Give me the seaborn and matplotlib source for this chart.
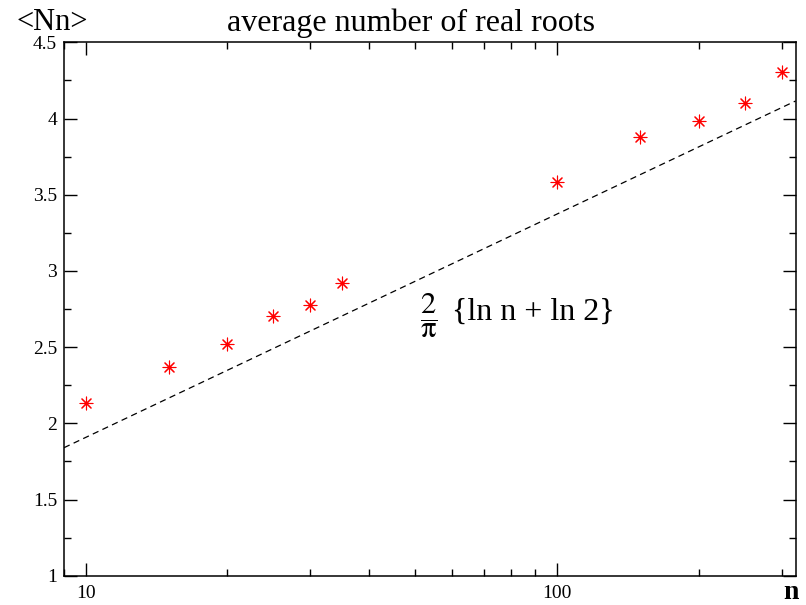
import numpy as np
import pandas as pd
import matplotlib
matplotlib.use("Agg")
import matplotlib.pyplot as plt
from matplotlib.ticker import FixedLocator, LogLocator, NullFormatter, FixedFormatter
import seaborn as sns

# measured average number of real roots <Nn> for polynomials of degree n
n_values = [10, 15, 20, 25, 30, 35, 100, 150, 200, 250, 300]
mean_roots = [2.131, 2.371, 2.522, 2.702, 2.776, 2.921, 3.583, 3.881, 3.986, 4.104, 4.305]

# asymptotic prediction (2/pi){ln n + ln 2}, drawn across the x range
curve_n = [9.0, 321.0]

x_major = [10, 100]
x_major_labels = ["10", "100"]
y_ticks = [1, 1.5, 2, 2.5, 3, 3.5, 4, 4.5]
y_tick_labels = ["1", "1.5", "2", "2.5", "3", "3.5", "4", "4.5"]

sns.set_style("ticks")
plt.rcParams["font.family"] = ["Liberation Serif", "DejaVu Serif"]
plt.rcParams["mathtext.fontset"] = "stix"
plt.rcParams["text.color"] = "black"
plt.rcParams["xtick.color"] = "black"
plt.rcParams["ytick.color"] = "black"

points = pd.DataFrame({"n": n_values, "Nn": mean_roots})
curve = pd.DataFrame({"n": curve_n,
                      "Nn": [2 / np.pi * (np.log(v) + np.log(2)) for v in curve_n]})

fig = plt.figure(figsize=(8.06, 6.05), dpi=100)
ax = fig.add_axes([0.0794, 0.0484, 0.9078, 0.8816])

sns.lineplot(data=curve, x="n", y="Nn", ax=ax, color="black", linewidth=0.9,
             linestyle=(0, (5, 3.5)), zorder=2)
sns.scatterplot(data=points, x="n", y="Nn", ax=ax, marker=(8, 2, 0), s=85,
                color="red", edgecolor="red", linewidth=0.8, zorder=3)

ax.set_xscale("log")
ax.set_xlim(9.0, 321.0)
ax.set_ylim(1, 4.5)

ax.xaxis.set_major_locator(FixedLocator(x_major))
ax.xaxis.set_major_formatter(FixedFormatter(x_major_labels))
ax.xaxis.set_minor_locator(LogLocator(base=10, subs=np.arange(2, 10)))
ax.xaxis.set_minor_formatter(NullFormatter())
ax.yaxis.set_major_locator(FixedLocator(y_ticks))
ax.yaxis.set_major_formatter(FixedFormatter(y_tick_labels))
ax.yaxis.set_minor_locator(FixedLocator(np.arange(1.25, 4.5, 0.5)))

ax.tick_params(which="both", direction="in", top=True, right=True,
               width=1.0, color="black", labelsize=14, labelcolor="black")
ax.tick_params(which="major", length=9.5)
ax.tick_params(which="minor", length=5)
ax.tick_params(axis="x", which="major", pad=7)
ax.tick_params(axis="y", which="major", pad=5)

for side in ax.spines.values():
    side.set_visible(True)
    side.set_linewidth(1.1)
    side.set_color("black")

ax.set_xlabel("")
ax.set_ylabel("")

fig.text(0.51, 0.962, "average number of real roots", ha="center", va="center",
         fontsize=23)
fig.text(0.020, 0.963, "<Nn>", ha="left", va="center", fontsize=22)
fig.text(0.981, 0.010, "n", ha="center", va="baseline", fontsize=20,
         fontweight="bold")

ax.text(0.498, 0.486, r"$\dfrac{2}{\mathrm{π}}$", transform=ax.transAxes,
        ha="center", va="center", fontsize=22)
ax.text(0.530, 0.4945, "{ln n + ln 2}", transform=ax.transAxes,
        ha="left", va="center", fontsize=23)

fig.savefig("out.png", dpi=100)
